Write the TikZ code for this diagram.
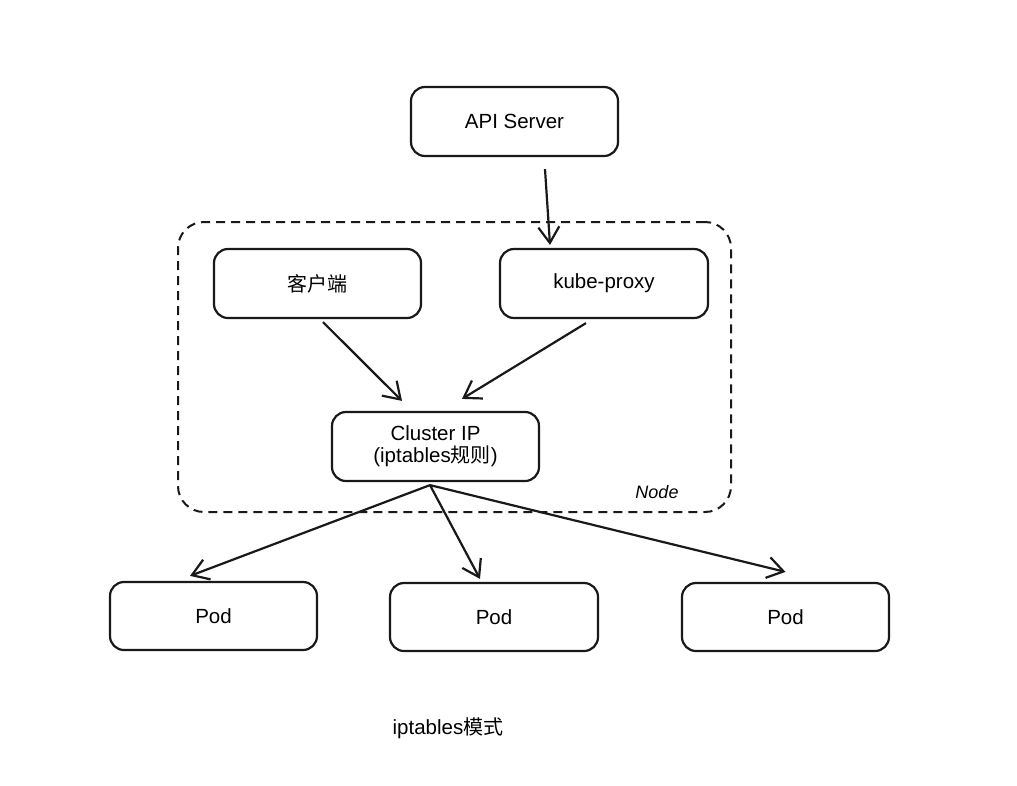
\documentclass[tikz,border=0pt]{standalone}
\usepackage{fontspec}
\setmainfont{Liberation Sans}
\newfontfamily\cjk{Noto Sans CJK SC}
\usetikzlibrary{arrows.meta}
\begin{document}
\begin{tikzpicture}[x=1pt,y=-1pt,
  box/.style={draw=black!90,line width=2.2pt,rounded corners=14pt,minimum width=207pt,minimum height=69pt,inner sep=0pt,align=center,font=\fontsize{20.5}{24}\selectfont},
  conn/.style={draw=black!90,line width=2.2pt,-{Straight Barb[length=16pt,width=21pt,line width=2.2pt]}},
  frame/.style={draw=black!90,line width=2pt,dash pattern=on 9pt off 6pt,rounded corners=26pt,minimum width=553pt,minimum height=290pt,inner sep=0pt}]
\path[fill=white,use as bounding box] (0,0) rectangle (1017,785);
\node[frame] (nodebox) at (454.5,367) {};
\node[font=\fontsize{18}{20}\selectfont\itshape] (nodelbl) at (657,492) {Node};
\node[box] (api) at (514.5,121.5) {API Server};
\node[box] (client) at (317.5,283.5) {\fontsize{20}{24}\cjk 客户端};
\node[box,minimum width=208pt] (kube) at (604,283.5) {kube-proxy};
\node[box] (cip) at (435.5,446.5) {Cluster IP\\[-2pt](iptables{\fontsize{20}{24}\cjk 规则})};
\node[box,minimum height=68pt] (pod1) at (213.5,616) {Pod};
\node[box,minimum width=208pt,minimum height=68pt] (pod2) at (494,617) {Pod};
\node[box,minimum height=68pt] (pod3) at (785.5,617) {Pod};
\node[font=\fontsize{20.5}{24}\selectfont] (caption) at (448,728) {iptables{\fontsize{20}{24}\cjk 模式}};
\draw[conn] ([xshift=30.5pt,yshift=-12pt]api.south) -- ([xshift=-54pt,yshift=3pt]kube.north);
\draw[conn] ([xshift=5.5pt,yshift=-3pt]client.south) -- ([xshift=-33.5pt,yshift=10pt]cip.north);
\draw[conn] ([xshift=-18pt,yshift=-4pt]kube.south) -- ([xshift=26.5pt,yshift=12pt]cip.north);
\draw[conn] ([xshift=-5.5pt,yshift=-3pt]cip.south) -- ([xshift=-23.5pt,yshift=5pt]pod1.north);
\draw[conn] ([xshift=-5.5pt,yshift=-3pt]cip.south) -- ([xshift=-14pt,yshift=3pt]pod2.north);
\draw[conn] ([xshift=-5.5pt,yshift=-3pt]cip.south) -- ([xshift=0pt,yshift=10pt]pod3.north);
\end{tikzpicture}
\end{document}
